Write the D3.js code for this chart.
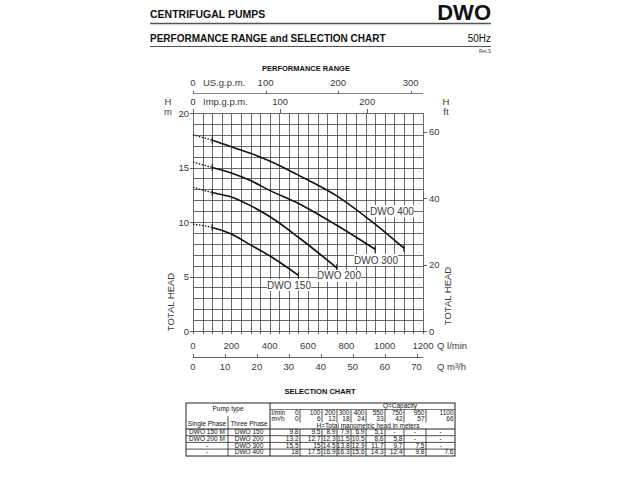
<!DOCTYPE html>
<html><head><meta charset="utf-8">
<script src="https://cdn.jsdelivr.net/npm/d3@7"></script>
<style>body{margin:0;background:#fff}svg{display:block}</style>
</head><body><svg id="c" width="640" height="480"></svg>
<script>
// ---------- data ----------
const flowLmin = [0, 100, 200, 300, 400, 550, 750, 950, 1100];
const flowM3h = [0, 6, 12, 18, 24, 33, 42, 57, 66];
const models = ["DWO 150", "DWO 200", "DWO 300", "DWO 400"];
const singlePhase = ["DWO 150 M", "DWO 200 M", "-", "-"];
const head150 = [9.8, 9.5, 8.9, 7.9, 6.9, 5.1];
const head200 = [13.2, 12.7, 12.3, 11.5, 10.5, 8.6, 5.8];
const head300 = [15.5, 15, 14.5, 13.8, 12.9, 11.7, 9.7, 7.5];
const head400 = [18, 17.5, 16.9, 16.3, 15.6, 14.3, 12.4, 9.8, 7.6];
const heads = [head150, head200, head300, head400];
const commaCells = [[0,5],[1,5],[1,6],[2,6],[2,7]]; // printed with decimal comma
const lminTicks = [0, 200, 400, 600, 800, 1000, 1200];
const m3hTicks = [0, 10, 20, 30, 40, 50, 60, 70];
const mTicks = [0, 5, 10, 15, 20];
const ftTicks = [0, 20, 40, 60];
const usTicks = [0, 100, 200, 300];
const impTicks = [0, 100, 200];
const labelAt = [[501, 4.22], [762, 5.05], [955, 6.51], [1038, 11.0]]; // [l/min, m]

// ---------- setup ----------
const svg = d3.select("#c");
const F = "'Liberation Sans',Arial,sans-serif";
const FA = "'Liberation Sans',Arial,sans-serif";
const ink = "#3a3a3a";
const x = d3.scaleLinear([0, 1200], [193, 423]);
const y = d3.scaleLinear([0, 20], [331, 113]);
const yFt = d3.scaleLinear([0, 20 / 0.3048], [331, 113]);
const xUS = d3.scaleLinear([0, 1200 / 3.78541], [193, 423]);
const xImp = d3.scaleLinear([0, 1200 / 4.54609], [193, 423]);
const xM3 = d3.scaleLinear([0, 72], [193, 423]);

// ---------- header ----------
svg.append("text").attr("x", 150).attr("y", 18).attr("font-family", FA).attr("font-weight", "bold")
  .attr("font-size", 10.5).attr("fill", "#111").text("CENTRIFUGAL PUMPS");
svg.append("text").attr("x", 491).attr("y", 20).attr("text-anchor", "end").attr("font-family", FA)
  .attr("font-weight", "bold").attr("font-size", 22).attr("fill", "#111").text("DWO");
svg.append("line").attr("x1", 150).attr("x2", 491).attr("y1", 23.5).attr("y2", 23.5).attr("stroke", "#555").attr("stroke-width", 1.5);
svg.append("text").attr("x", 150).attr("y", 42).attr("font-family", FA).attr("font-weight", "bold")
  .attr("font-size", 10).attr("fill", "#111").text("PERFORMANCE RANGE and SELECTION CHART");
svg.append("text").attr("x", 491).attr("y", 42).attr("text-anchor", "end").attr("font-family", FA)
  .attr("font-size", 10).attr("fill", "#111").text("50Hz");
svg.append("line").attr("x1", 150).attr("x2", 491).attr("y1", 46.5).attr("y2", 46.5).attr("stroke", "#555").attr("stroke-width", 1.2);
svg.append("text").attr("x", 491).attr("y", 53).attr("text-anchor", "end").attr("font-family", FA)
  .attr("font-size", 4.5).attr("fill", "#333").text("Rev.S");
svg.append("text").attr("x", 306).attr("y", 71).attr("text-anchor", "middle").attr("font-family", FA)
  .attr("font-weight", "bold").attr("font-size", 7.5).attr("fill", "#111").text("PERFORMANCE RANGE");

// ---------- grid ----------
const g = svg.append("g");
g.selectAll(".vg").data(d3.range(0, 1201, 50)).join("line")
  .attr("x1", d => Math.round(x(d)) + 0.5).attr("x2", d => Math.round(x(d)) + 0.5)
  .attr("y1", y(20)).attr("y2", y(0) + 3).attr("stroke", "#444").attr("stroke-width", 0.8);
g.selectAll(".hg").data(d3.range(0, 21, 1)).join("line")
  .attr("x1", x(0)).attr("x2", x(1200)).attr("y1", d => Math.round(y(d)) + 0.5).attr("y2", d => Math.round(y(d)) + 0.5)
  .attr("stroke", "#444").attr("stroke-width", 0.8);

// left axis (m)
const txt = (sel) => sel.attr("font-family", F).attr("font-size", 9.5).attr("fill", ink);
g.selectAll(".lt").data(mTicks).join("line").attr("x1", x(0) - 3).attr("x2", x(0))
  .attr("y1", d => Math.round(y(d)) + 0.5).attr("y2", d => Math.round(y(d)) + 0.5).attr("stroke", ink).attr("stroke-width", 0.8);
g.selectAll(".ll").data(mTicks).join("text").call(txt).attr("x", x(0) - 4).attr("y", d => y(d) + 3.5)
  .attr("text-anchor", "end").text(d => d);
// right axis (ft)
g.selectAll(".rt").data(ftTicks).join("line").attr("x1", x(1200)).attr("x2", x(1200) + 4)
  .attr("y1", d => Math.round(yFt(d)) + 0.5).attr("y2", d => Math.round(yFt(d)) + 0.5).attr("stroke", ink).attr("stroke-width", 0.8);
g.selectAll(".rl").data(ftTicks).join("text").call(txt).attr("x", x(1200) + 6).attr("y", d => yFt(d) + 3.5).text(d => d);
// bottom l/min labels
g.selectAll(".bl").data(lminTicks).join("text").call(txt).attr("x", d => x(d)).attr("y", 349)
  .attr("text-anchor", "middle").text(d => d);
g.append("text").call(txt).attr("x", 437).attr("y", 349).text("Q  l/min");
// m3/h axis
g.append("line").attr("x1", xM3(0)).attr("x2", x(1200)).attr("y1", 357.5).attr("y2", 357.5).attr("stroke", ink).attr("stroke-width", 0.8);
g.selectAll(".mt").data(m3hTicks).join("line").attr("x1", d => Math.round(xM3(d)) + 0.5).attr("x2", d => Math.round(xM3(d)) + 0.5)
  .attr("y1", 354).attr("y2", 357.5).attr("stroke", ink).attr("stroke-width", 0.8);
g.selectAll(".ml").data(m3hTicks).join("text").call(txt).attr("x", d => xM3(d)).attr("y", 370)
  .attr("text-anchor", "middle").text(d => d);
g.append("text").call(txt).attr("x", 437).attr("y", 370).text("Q  m³/h");
// US gpm axis
g.append("line").attr("x1", xUS(0)).attr("x2", x(1200)).attr("y1", 93.5).attr("y2", 93.5).attr("stroke", "#777").attr("stroke-width", 0.9);
g.selectAll(".ut").data(usTicks).join("line").attr("x1", d => Math.round(xUS(d)) + 0.5).attr("x2", d => Math.round(xUS(d)) + 0.5)
  .attr("y1", 91).attr("y2", 93.5).attr("stroke", ink).attr("stroke-width", 0.8);
g.selectAll(".ul").data(usTicks).join("text").call(txt).attr("x", d => xUS(d)).attr("y", 86)
  .attr("text-anchor", "middle").text(d => d);
g.append("text").call(txt).attr("x", 203).attr("y", 86).text("US.g.p.m.");
// Imp gpm axis (on plot top)
g.selectAll(".it").data(impTicks).join("line").attr("x1", d => Math.round(xImp(d)) + 0.5).attr("x2", d => Math.round(xImp(d)) + 0.5)
  .attr("y1", 109).attr("y2", 113).attr("stroke", ink).attr("stroke-width", 0.8);
g.selectAll(".il").data(impTicks).join("text").call(txt).attr("x", d => xImp(d)).attr("y", 105)
  .attr("text-anchor", "middle").text(d => d);
g.append("text").call(txt).attr("x", 203).attr("y", 105).text("Imp.g.p.m.");
// unit labels
g.append("text").call(txt).attr("x", 168).attr("y", 105).attr("text-anchor", "middle").text("H");
g.append("text").call(txt).attr("x", 168).attr("y", 115).attr("text-anchor", "middle").text("m");
g.append("text").call(txt).attr("x", 446).attr("y", 105).attr("text-anchor", "middle").text("H");
g.append("text").call(txt).attr("x", 446).attr("y", 115).attr("text-anchor", "middle").text("ft");
g.append("text").call(txt).attr("transform", "translate(174,302) rotate(-90)").attr("text-anchor", "middle").text("TOTAL HEAD");
g.append("text").call(txt).attr("transform", "translate(451,296) rotate(-90)").attr("text-anchor", "middle").text("TOTAL HEAD");

// ---------- curves ----------
const defs = svg.append("defs");
defs.append("clipPath").attr("id", "cs").append("rect").attr("x", x(100)).attr("y", 0).attr("width", 640).attr("height", 480);
defs.append("clipPath").attr("id", "cd").append("rect").attr("x", 0).attr("y", 0).attr("width", x(100)).attr("height", 480);
const line = d3.line().x(d => x(d[0])).y(d => y(d[1])).curve(d3.curveMonotoneX);
const cg = svg.append("g");
heads.forEach((h, i) => {
  const pts = h.map((v, j) => [flowLmin[j], v]);
  cg.append("path").attr("d", line(pts)).attr("fill", "none").attr("stroke", "#111").attr("stroke-width", 1.6).attr("clip-path", "url(#cs)");
  cg.append("path").attr("d", line(pts)).attr("fill", "none").attr("stroke", "#111").attr("stroke-width", 1.3)
    .attr("stroke-dasharray", "1.5,1.5").attr("clip-path", "url(#cd)");
  [pts[1], pts[pts.length - 1]].forEach(p => {
    cg.append("line").attr("x1", x(p[0])).attr("x2", x(p[0])).attr("y1", y(p[1]) - 3.5).attr("y2", y(p[1]) + 3.5)
      .attr("stroke", "#111").attr("stroke-width", 1);
  });
  const lx = x(labelAt[i][0]), ly = y(labelAt[i][1]);
  cg.append("rect").attr("x", lx - 22).attr("y", ly - 6).attr("width", 44).attr("height", 12).attr("fill", "#fff");
  cg.append("text").call(txt).attr("font-size", 10).attr("x", lx).attr("y", ly + 3.5).attr("text-anchor", "middle").text(models[i]);
});

// ---------- selection table ----------
svg.append("text").attr("x", 320).attr("y", 394).attr("text-anchor", "middle").attr("font-family", FA)
  .attr("font-weight", "bold").attr("font-size", 7.5).attr("fill", "#111").text("SELECTION CHART");
const T = svg.append("g").attr("font-family", FA).attr("font-size", 6.5).attr("fill", "#111");
const dataEdges = [270, 300, 322, 337, 351, 366, 385, 404, 426, 455];
const rowY = [403, 409.5, 416, 422.5, 429, 435.7, 442.4, 449.1, 456];
const L = (x1, y1, x2, y2, w) => T.append("line").attr("x1", x1).attr("y1", y1).attr("x2", x2).attr("y2", y2)
  .attr("stroke", "#222").attr("stroke-width", w || 0.8);
// outer
T.append("rect").attr("x", 186).attr("y", 403).attr("width", 455 - 186).attr("height", 456 - 403)
  .attr("fill", "none").attr("stroke", "#222").attr("stroke-width", 1);
L(270, 403, 270, 456, 1);
L(228, 416, 228, 456);
L(186, 429, 455, 429, 1);
rowY.slice(5, 8).forEach(r => L(186, r, 455, r));
L(270, 409.5, 455, 409.5, 0.6);
dataEdges.slice(1, 9).forEach(cx => { L(cx, 409.5, cx, 422.5); L(cx, 429, cx, 456); });
T.append("text").attr("x", 228).attr("y", 411).attr("text-anchor", "middle").text("Pump type");
T.append("text").attr("x", 207).attr("y", 425.5).attr("text-anchor", "middle").text("Single Phase");
T.append("text").attr("x", 249).attr("y", 425.5).attr("text-anchor", "middle").text("Three Phase");
T.append("text").attr("x", 400).attr("y", 408.3).attr("text-anchor", "middle").text("Q=Capacity");
T.append("text").attr("x", 368).attr("y", 427.7).attr("text-anchor", "middle").text("H=Total manometric head in meters");
T.append("text").attr("x", 271.5).attr("y", 414.7).text("l/min");
T.append("text").attr("x", 271.5).attr("y", 421.2).text("m³/h");
flowLmin.forEach((v, j) => T.append("text").attr("x", dataEdges[j + 1] - 1.5).attr("y", 414.7).attr("text-anchor", "end").text(v));
flowM3h.forEach((v, j) => T.append("text").attr("x", dataEdges[j + 1] - 1.5).attr("y", 421.2).attr("text-anchor", "end").text(v));
models.forEach((m, i) => {
  const ty = rowY[4 + i] + 5.2;
  T.append("text").attr("x", 207).attr("y", ty).attr("text-anchor", "middle").text(singlePhase[i]);
  T.append("text").attr("x", 249).attr("y", ty).attr("text-anchor", "middle").text(m);
  flowLmin.forEach((f, j) => {
    const v = heads[i][j];
    let s = v === undefined ? "-" : String(v);
    if (commaCells.some(c => c[0] === i && c[1] === j)) s = s.replace(".", ",");
    T.append("text").attr("x", v === undefined ? (dataEdges[j] + dataEdges[j + 1]) / 2 : dataEdges[j + 1] - 1.5)
      .attr("y", ty).attr("text-anchor", v === undefined ? "middle" : "end").text(s);
  });
});
</script></body></html>
